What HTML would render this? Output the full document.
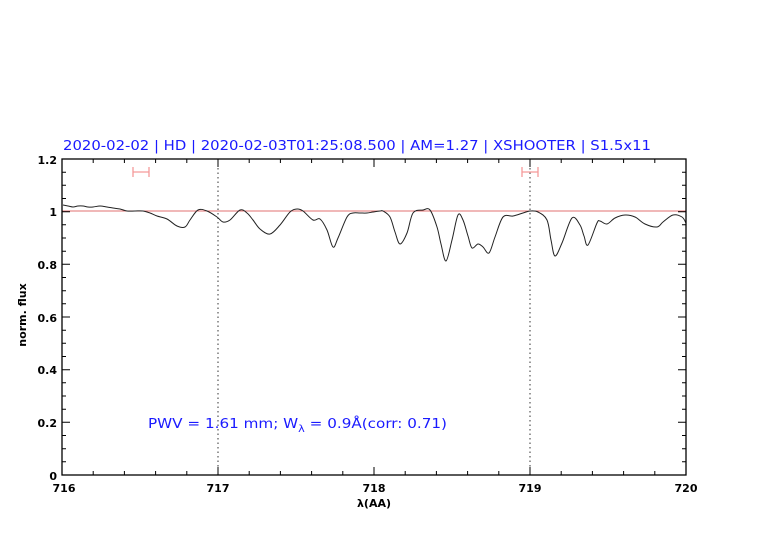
<!DOCTYPE html>
<html><head><meta charset="utf-8"><style>
html,body{margin:0;padding:0;background:#fff;}
svg{display:block;}
text{font-family:"DejaVu Sans","Liberation Sans",sans-serif;}
</style></head><body>
<svg width="782" height="542" viewBox="0 0 782 542" xmlns="http://www.w3.org/2000/svg">
<rect width="782" height="542" fill="#fff"/>
<text x="63" y="150" font-size="13.5" fill="#1a1aff" textLength="588" lengthAdjust="spacingAndGlyphs">2020-02-02 | HD | 2020-02-03T01:25:08.500 | AM=1.27 | XSHOOTER | S1.5x11</text>
<line x1="62" y1="211" x2="686" y2="211" stroke="#e07070" stroke-width="1"/>
<line x1="218" y1="159" x2="218" y2="475" stroke="#333" stroke-width="1" stroke-dasharray="1.5,3"/>
<line x1="530" y1="159" x2="530" y2="475" stroke="#333" stroke-width="1" stroke-dasharray="1.5,3"/>
<g stroke="#f59a9a" stroke-width="1.3" fill="none">
<path d="M133 167V177M149 167V177M133 172H149"/>
<path d="M522 167V177M538 167V177M522 172H538"/>
</g>
<polyline id="spec" fill="none" stroke="#222" stroke-width="1" stroke-linejoin="round" points="63,205 68,206 73,207 78,206 83,206 88,207 93,207 100,206 107,207 113,208 120,209 127,211 135,211 143,211 150,213 157,216 167,219 177,226 185,227 190,220 198,210 207,211 217,217 223,222 230,220 240,210 247,213 253,220 260,229 270,234 280,225 290,212 297,209 303,211 313,220 320,219 327,230 333,247 338,238 347,217 353,213 360,213 367,213 373,212 380,211 383,211 390,217 395,232 400,244 407,233 413,213 423,210 430,210 437,227 441,244 446,261 452,240 458,215 463,220 468,236 472,248 478,244 483,247 489,253 495,237 503,217 513,216 523,213 530,211 538,212 547,220 551,240 555,256 562,243 572,218 580,225 584,236 588,245 597,223 600,221 607,224 615,218 625,215 635,217 645,224 657,227 663,222 673,215 682,217 686,223"/>
<rect x="62" y="159" width="624" height="316" fill="none" stroke="#000" stroke-width="1.3"/>
<g stroke="#000" stroke-width="1">
<path d="M62 475v-8M218 475v-8M374 475v-8M530 475v-8M686 475v-8M62 159v8M218 159v8M374 159v8M530 159v8M686 159v8"/>
<path d="M93.2 475v-4M124.4 475v-4M155.6 475v-4M186.8 475v-4M249.2 475v-4M280.4 475v-4M311.6 475v-4M342.8 475v-4M405.2 475v-4M436.4 475v-4M467.6 475v-4M498.8 475v-4M561.2 475v-4M592.4 475v-4M623.6 475v-4M654.8 475v-4"/>
<path d="M93.2 159v4M124.4 159v4M155.6 159v4M186.8 159v4M249.2 159v4M280.4 159v4M311.6 159v4M342.8 159v4M405.2 159v4M436.4 159v4M467.6 159v4M498.8 159v4M561.2 159v4M592.4 159v4M623.6 159v4M654.8 159v4"/>
<path d="M62 475h8M62 422.3h8M62 369.7h8M62 317h8M62 264.3h8M62 211.7h8M62 159h8M686 422.3h-8M686 369.7h-8M686 317h-8M686 264.3h-8M686 211.7h-8"/>
<path d="M62 461.8h4M62 448.7h4M62 435.5h4M62 409.2h4M62 396h4M62 382.8h4M62 356.5h4M62 343.3h4M62 330.2h4M62 303.8h4M62 290.7h4M62 277.5h4M62 251.2h4M62 238h4M62 224.8h4M62 198.5h4M62 185.3h4M62 172.2h4"/>
<path d="M686 461.8h-4M686 448.7h-4M686 435.5h-4M686 409.2h-4M686 396h-4M686 382.8h-4M686 356.5h-4M686 343.3h-4M686 330.2h-4M686 303.8h-4M686 290.7h-4M686 277.5h-4M686 251.2h-4M686 238h-4M686 224.8h-4M686 198.5h-4M686 185.3h-4M686 172.2h-4"/>
</g>
<g font-size="11" fill="#000" text-anchor="end" font-weight="bold">
<text x="57" y="480">0</text>
<text x="57" y="427">0.2</text>
<text x="57" y="374">0.4</text>
<text x="57" y="322">0.6</text>
<text x="57" y="269">0.8</text>
<text x="57" y="216">1</text>
<text x="57" y="164">1.2</text>
</g>
<g font-size="11" fill="#000" text-anchor="middle" font-weight="bold">
<text x="64" y="492">716</text>
<text x="218" y="492">717</text>
<text x="374" y="492">718</text>
<text x="530" y="492">719</text>
<text x="686" y="492">720</text>
<text x="374" y="507">λ(AA)</text>
</g>
<text transform="translate(26,315) rotate(-90)" font-size="11" font-weight="bold" text-anchor="middle" font-family="Liberation Serif,serif">norm.  flux</text>
<text x="148" y="428" font-size="13.5" fill="#1a1aff" textLength="299" lengthAdjust="spacingAndGlyphs">PWV = 1.61 mm; W<tspan font-size="10" dy="4">λ</tspan><tspan dy="-4"> = 0.9Å(corr: 0.71)</tspan></text>
</svg>
<script>
(function(){
var pl=document.getElementById('spec');
var p=pl.getAttribute('points').trim().split(/\s+/).map(function(s){return s.split(',').map(Number);});
var d='M'+p[0][0]+' '+p[0][1];
for(var i=0;i<p.length-1;i++){
var p0=p[i-1]||p[i],p1=p[i],p2=p[i+1],p3=p[i+2]||p2;
var c1x=p1[0]+(p2[0]-p0[0])/6,c1y=p1[1]+(p2[1]-p0[1])/6;
var c2x=p2[0]-(p3[0]-p1[0])/6,c2y=p2[1]-(p3[1]-p1[1])/6;
d+='C'+c1x.toFixed(2)+' '+c1y.toFixed(2)+' '+c2x.toFixed(2)+' '+c2y.toFixed(2)+' '+p2[0]+' '+p2[1];
}
var path=document.createElementNS('http://www.w3.org/2000/svg','path');
path.setAttribute('d',d);path.setAttribute('fill','none');path.setAttribute('stroke','#222');path.setAttribute('stroke-width','1');
pl.parentNode.replaceChild(path,pl);
})();
</script>
</body></html>
